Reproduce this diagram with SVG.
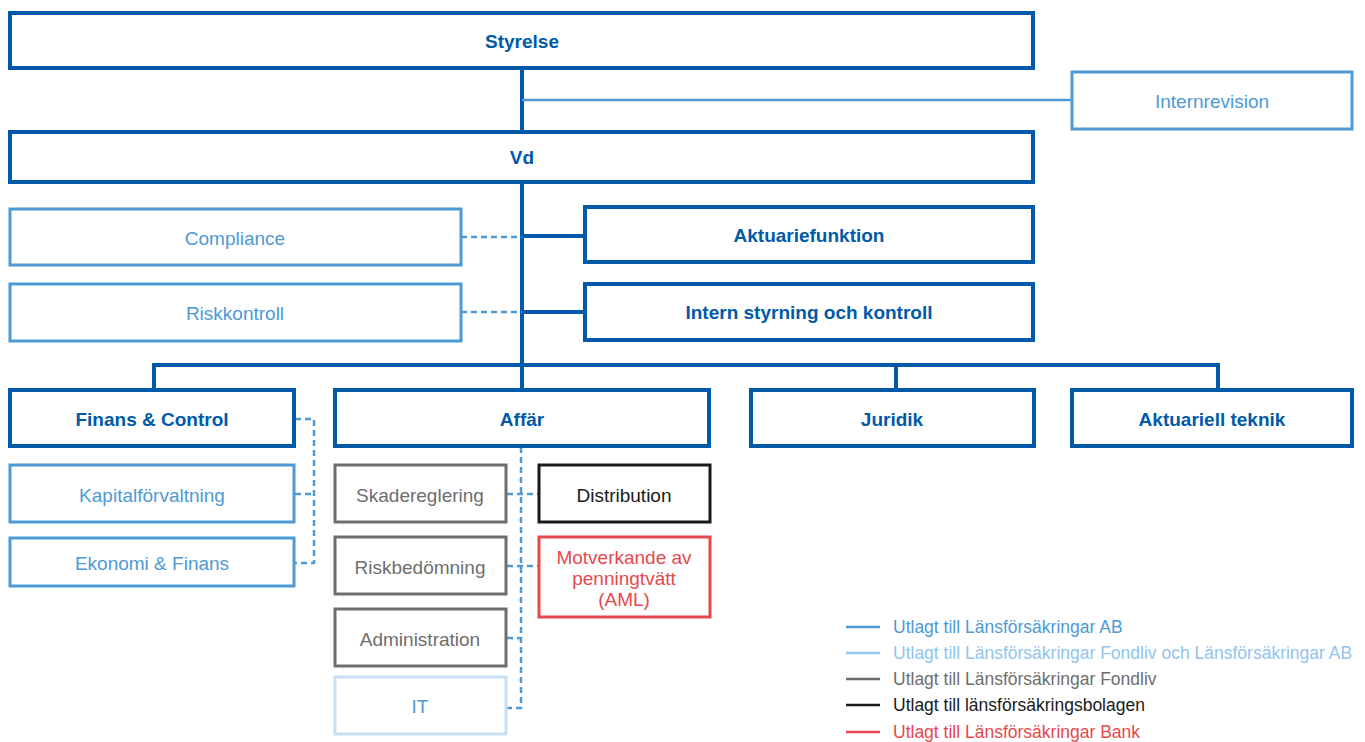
<svg xmlns="http://www.w3.org/2000/svg" width="1365" height="742" viewBox="0 0 1365 742">
<style>
text{font-family:"Liberation Sans",Arial,sans-serif;text-anchor:middle;dominant-baseline:central}
.b{fill:#fff;stroke:#005aa9;stroke-width:4}
.bt{fill:#005aa9;font-weight:bold;font-size:19px}
.m{fill:#fff;stroke:#4d9ad5;stroke-width:3}
.mt{fill:#4d9ad5;font-size:19px}
.g{fill:#fff;stroke:#6e6e6e;stroke-width:3}
.gt{fill:#6e6e6e;font-size:19px}
.k{fill:#fff;stroke:#1a1a1a;stroke-width:3}
.kt{fill:#1a1a1a;font-size:19px}
.r{fill:#fff;stroke:#e5484d;stroke-width:3}
.rt{fill:#e5484d;font-size:19px}
.l{fill:#fff;stroke:#c6dff4;stroke-width:3}
.solid{stroke:#005aa9;stroke-width:4;fill:none}
.thin{stroke:#4d9ad5;stroke-width:2.5;fill:none}
.dash{stroke:#4d9ad5;stroke-width:2.5;fill:none;stroke-dasharray:6 4}
.lg{font-size:17.5px;text-anchor:start}
</style>
<g id="connectors">
<line class="solid" x1="522" y1="68" x2="522" y2="132"/>
<line class="thin" x1="522" y1="100" x2="1072" y2="100"/>
<line class="solid" x1="522" y1="182" x2="522" y2="390"/>
<line class="dash" x1="461" y1="237" x2="522" y2="237"/>
<line class="solid" x1="522" y1="236" x2="585" y2="236"/>
<line class="dash" x1="461" y1="312" x2="522" y2="312"/>
<line class="solid" x1="522" y1="312" x2="585" y2="312"/>
<polyline class="solid" points="154,390 154,365 1218,365 1218,390"/>
<line class="solid" x1="896" y1="365" x2="896" y2="390"/>
<polyline class="dash" points="295,419 314,419 314,563 295,563"/>
<line class="dash" x1="295" y1="494" x2="314" y2="494"/>
<polyline class="dash" points="521,447 521,708 507,708"/>
<line class="dash" x1="507" y1="494" x2="539" y2="494"/>
<line class="dash" x1="507" y1="566" x2="539" y2="566"/>
<line class="dash" x1="507" y1="638" x2="521" y2="638"/>
</g>
<g id="styrelse"><rect class="b" x="10" y="13" width="1023" height="55"/><text class="bt" x="522" y="41">Styrelse</text></g>
<g id="internrevision"><rect class="m" x="1072" y="72" width="280" height="57"/><text class="mt" x="1212" y="101">Internrevision</text></g>
<g id="vd"><rect class="b" x="10" y="132" width="1023" height="50"/><text class="bt" x="522" y="157">Vd</text></g>
<g id="compliance"><rect class="m" x="10" y="209" width="451" height="56"/><text class="mt" x="235" y="238">Compliance</text></g>
<g id="aktuariefunktion"><rect class="b" x="585" y="207" width="448" height="55"/><text class="bt" x="809" y="235">Aktuariefunktion</text></g>
<g id="riskkontroll"><rect class="m" x="10" y="284" width="451" height="57"/><text class="mt" x="235" y="313">Riskkontroll</text></g>
<g id="intern-styrning"><rect class="b" x="585" y="284" width="448" height="56"/><text class="bt" x="809" y="312">Intern styrning och kontroll</text></g>
<g id="finans-control"><rect class="b" x="10" y="390" width="284" height="56"/><text class="bt" x="152" y="419">Finans &amp; Control</text></g>
<g id="affar"><rect class="b" x="335" y="390" width="374" height="56"/><text class="bt" x="522" y="419">Affär</text></g>
<g id="juridik"><rect class="b" x="751" y="390" width="283" height="56"/><text class="bt" x="892" y="419">Juridik</text></g>
<g id="aktuariell-teknik"><rect class="b" x="1072" y="390" width="280" height="56"/><text class="bt" x="1212" y="419">Aktuariell teknik</text></g>
<g id="kapitalforvaltning"><rect class="m" x="10" y="465" width="284" height="57"/><text class="mt" x="152" y="495">Kapitalförvaltning</text></g>
<g id="ekonomi-finans"><rect class="m" x="10" y="538" width="284" height="48"/><text class="mt" x="152" y="563">Ekonomi &amp; Finans</text></g>
<g id="skadereglering"><rect class="g" x="335" y="465" width="171" height="57"/><text class="gt" x="420" y="495">Skadereglering</text></g>
<g id="riskbedomning"><rect class="g" x="335" y="537" width="171" height="57"/><text class="gt" x="420" y="567">Riskbedömning</text></g>
<g id="administration"><rect class="g" x="335" y="609" width="171" height="57"/><text class="gt" x="420" y="639">Administration</text></g>
<g id="it"><rect class="l" x="335" y="677" width="171" height="57"/><text class="mt" x="420" y="706">IT</text></g>
<g id="distribution"><rect class="k" x="539" y="465" width="171" height="57"/><text class="kt" x="624" y="495">Distribution</text></g>
<g id="aml"><rect class="r" x="539" y="537" width="171" height="80"/><text class="rt" x="624" y="557">Motverkande av</text><text class="rt" x="624" y="578">penningtvätt</text><text class="rt" x="624" y="599">(AML)</text></g>
<g id="legend">
<line x1="846" y1="627" x2="880" y2="627" stroke="#4d9ad5" stroke-width="2.5"/><text class="lg" x="893" y="627" fill="#4d9ad5">Utlagt till Länsförsäkringar AB</text>
<line x1="846" y1="653" x2="880" y2="653" stroke="#8fc5ee" stroke-width="2.5"/><text class="lg" x="893" y="653" fill="#8fc5ee">Utlagt till Länsförsäkringar Fondliv och Länsförsäkringar AB</text>
<line x1="846" y1="679" x2="880" y2="679" stroke="#6e6e6e" stroke-width="2.5"/><text class="lg" x="893" y="679" fill="#6e6e6e">Utlagt till Länsförsäkringar Fondliv</text>
<line x1="846" y1="705" x2="880" y2="705" stroke="#1a1a1a" stroke-width="2.5"/><text class="lg" x="893" y="705" fill="#1a1a1a">Utlagt till länsförsäkringsbolagen</text>
<line x1="846" y1="732" x2="880" y2="732" stroke="#e5484d" stroke-width="2.5"/><text class="lg" x="893" y="732" fill="#e5484d">Utlagt till Länsförsäkringar Bank</text>
</g>
</svg>
